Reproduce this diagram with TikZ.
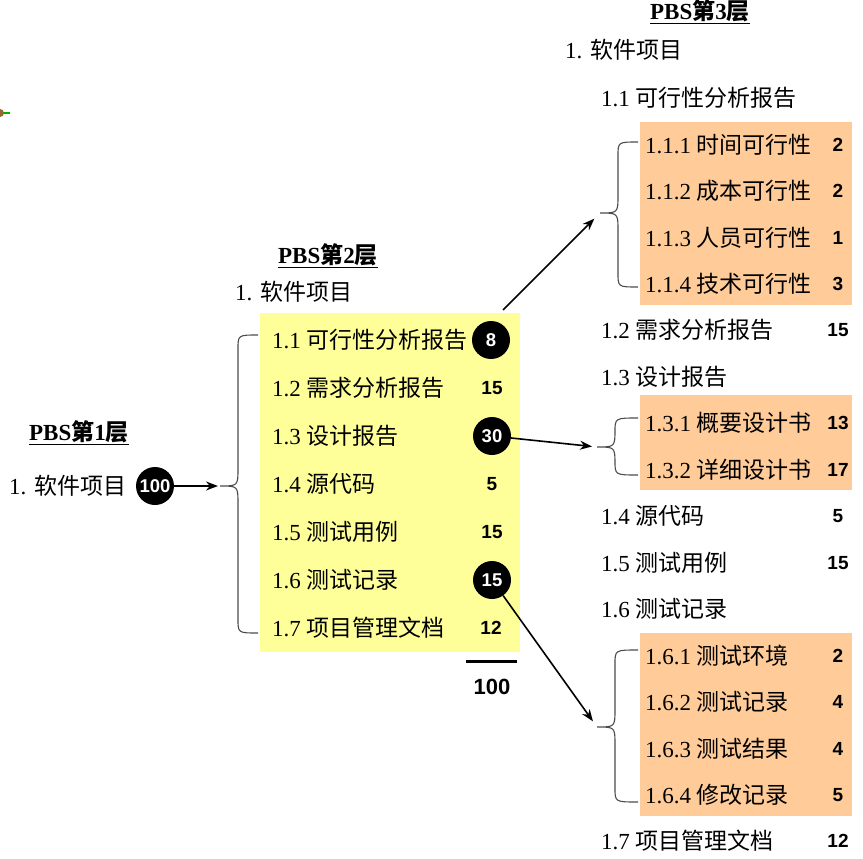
\documentclass[tikz,border=0pt]{standalone}
\usepackage{fontspec}
\setmainfont{Liberation Serif}
\newfontfamily\cjk{Noto Sans CJK SC}
\newfontfamily\numf{Liberation Sans}
\usetikzlibrary{arrows.meta}
\definecolor{yel}{HTML}{FFFF99}
\definecolor{peach}{HTML}{FFCC99}
\newcommand\drawbrace[7]{% name, xtip, xmid, xright, ytop, ymid, ybot
  \coordinate (#1) at (#2,#6);
  \draw[brc] (#4,#5) .. controls (#3,#5) .. (#3,{#5+14}) -- (#3,{#6-18})
     .. controls (#3,#6) .. (#2,#6)
     .. controls (#3,#6) .. (#3,{#6+18}) -- (#3,{#7-14})
     .. controls (#3,#7) .. (#4,#7);}
\begin{document}
\begin{tikzpicture}[x=1pt,y=-1pt,
  txt/.style={anchor=west, inner sep=0pt, font=\fontsize{23}{27}\selectfont},
  num/.style={inner sep=0pt, font=\fontsize{19}{22}\selectfont\numf\bfseries},
  dot/.style={circle, fill=black, text=white, minimum size=38pt, inner sep=0pt, font=\fontsize{18.5}{22}\selectfont\numf\bfseries},
  head/.style={inner sep=0pt, font=\fontsize{23}{27}\selectfont\bfseries},
  brc/.style={draw=black!70, line width=1.1pt},
  arr/.style={-{Stealth[length=12pt,width=9pt]}, line width=1.6pt}]
\useasboundingbox (0,0) rectangle (863,859);
% artifact handle
\draw[green!70!black, line width=1.2pt] (0,113) -- (10,113);
\fill[brown!80!black] (0,113) circle (4);
% boxes
\fill[yel] (260,313) rectangle (520,652);
\fill[peach] (640,122) rectangle (852,305);
\fill[peach] (640,395) rectangle (852,490);
\fill[peach] (640,633) rectangle (852,816);
% layer 1
\node[head] (h1) at (79,433) {\underline{PBS{\cjk\bfseries 第}1{\cjk\bfseries 层}}};
\node[txt] (l1) at (9,486) {1. {\cjk 软件项目}};
\node[dot] (c100) at (155,486) {100};
\drawbrace{t0}{220}{238}{258}{335}{486}{633}
\draw[arr, shorten >=2pt] (c100) -- (t0);
% layer 2
\node[head] (h2) at (328,256) {\underline{PBS{\cjk\bfseries 第}2{\cjk\bfseries 层}}};
\node[txt] (m0) at (235,292) {1. {\cjk 软件项目}};
\node[txt] (m1) at (272,340) {1.1 {\cjk 可行性分析报告}};
\node[txt] (m2) at (272,388) {1.2 {\cjk 需求分析报告}};
\node[txt] (m3) at (272,436) {1.3 {\cjk 设计报告}};
\node[txt] (m4) at (272,484) {1.4 {\cjk 源代码}};
\node[txt] (m5) at (272,532) {1.5 {\cjk 测试用例}};
\node[txt] (m6) at (272,580) {1.6 {\cjk 测试记录}};
\node[txt] (m7) at (272,628) {1.7 {\cjk 项目管理文档}};
\node[dot] (c8) at (491,340) {8};
\node[num] (n2) at (492,388) {15};
\node[dot] (c30) at (492,436) {30};
\node[num] (n4) at (492,484) {5};
\node[num] (n5) at (492,532) {15};
\node[dot] (c15) at (492,580) {15};
\node[num] (n7) at (491,628) {12};
\draw[line width=3pt] (466,661) -- (517,661);
\node[inner sep=0pt, font=\fontsize{22}{26}\selectfont\numf\bfseries] (tot) at (492,687) {100};
% layer 3
\node[head] (h3) at (700,12) {\underline{PBS{\cjk\bfseries 第}3{\cjk\bfseries 层}}};
\node[txt] (r0) at (565,50) {1. {\cjk 软件项目}};
\node[txt] (r1) at (601,98) {1.1 {\cjk 可行性分析报告}};
\node[txt] (r11) at (645,145) {1.1.1 {\cjk 时间可行性}};
\node[txt] (r12) at (645,191) {1.1.2 {\cjk 成本可行性}};
\node[txt] (r13) at (645,238) {1.1.3 {\cjk 人员可行性}};
\node[txt] (r14) at (645,284) {1.1.4 {\cjk 技术可行性}};
\node[num] (q11) at (838,145) {2};
\node[num] (q12) at (838,191) {2};
\node[num] (q13) at (838,238) {1};
\node[num] (q14) at (838,284) {3};
\node[txt] (r2) at (601,330) {1.2 {\cjk 需求分析报告}};
\node[num] (q2) at (838,330) {15};
\node[txt] (r3) at (601,377) {1.3 {\cjk 设计报告}};
\node[txt] (r31) at (645,423) {1.3.1 {\cjk 概要设计书}};
\node[txt] (r32) at (645,470) {1.3.2 {\cjk 详细设计书}};
\node[num] (q31) at (838,423) {13};
\node[num] (q32) at (838,470) {17};
\node[txt] (r4) at (601,516) {1.4 {\cjk 源代码}};
\node[num] (q4) at (838,516) {5};
\node[txt] (r5) at (601,563) {1.5 {\cjk 测试用例}};
\node[num] (q5) at (838,563) {15};
\node[txt] (r6) at (601,609) {1.6 {\cjk 测试记录}};
\node[txt] (r61) at (645,656) {1.6.1 {\cjk 测试环境}};
\node[txt] (r62) at (645,702) {1.6.2 {\cjk 测试记录}};
\node[txt] (r63) at (645,749) {1.6.3 {\cjk 测试结果}};
\node[txt] (r64) at (645,795) {1.6.4 {\cjk 修改记录}};
\node[num] (q61) at (838,656) {2};
\node[num] (q62) at (838,702) {4};
\node[num] (q63) at (838,749) {4};
\node[num] (q64) at (838,795) {5};
\node[txt] (r7) at (601,841) {1.7 {\cjk 项目管理文档}};
\node[num] (q7) at (838,841) {12};
% braces
\drawbrace{t1}{600}{618}{638}{142}{213}{287}
\drawbrace{t2}{597}{615}{638}{418}{447}{475}
\drawbrace{t3}{597}{615}{638}{650}{727}{802}
% arrows
\coordinate (s1) at (503,310);
\draw[arr, shorten >=8pt] (s1) -- (t1);
\draw[arr, shorten >=5pt] (c30) -- (t2);
\draw[arr, shorten >=7pt] (c15) -- (t3);
\end{tikzpicture}
\end{document}
